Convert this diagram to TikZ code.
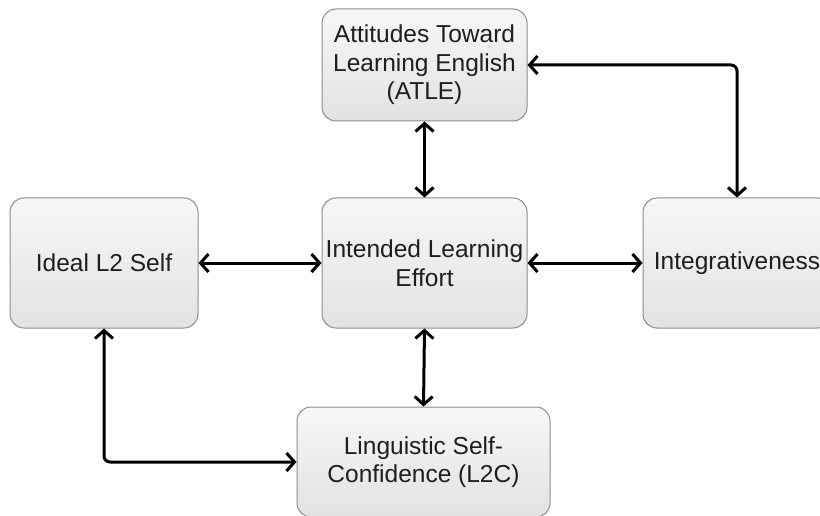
\documentclass[tikz,border=0pt]{standalone}
\usepackage{fontspec}
\setmainfont{Liberation Sans}
\usetikzlibrary{arrows.meta}
\definecolor{boxtop}{HTML}{F7F7F7}
\definecolor{boxbot}{HTML}{E2E2E2}
\definecolor{boxline}{HTML}{8C8C8C}
\definecolor{txt}{HTML}{1E1E1E}
\tikzset{
  box/.style={draw=boxline, line width=1pt, rounded corners=14pt,
    top color=boxtop, bottom color=boxbot, align=center,
    font=\fontsize{24.5}{28.5}\selectfont, text=txt, inner sep=0pt},
  link/.style={line width=3pt, line cap=round, rounded corners=6pt,
    {Straight Barb[length=8pt,width=18pt]}-{Straight Barb[length=8pt,width=18pt]}}
}
\begin{document}
\begin{tikzpicture}[x=1pt,y=-1pt]
\useasboundingbox (0,0) rectangle (820,516);
\clip (0,0) rectangle (820,516);
\fill[white] (0,0) rectangle (820,516);
\node[box, minimum width=205pt, minimum height=112pt] (atle) at (424.5,65) {Attitudes Toward\\Learning English\\(ATLE)};
\node[box, minimum width=188pt, minimum height=130pt] (ideal) at (104,263) {Ideal L2 Self};
\node[box, minimum width=205pt, minimum height=130pt] (ile) at (424.5,263) {Intended Learning\\Effort};
\node[box, minimum width=188pt, minimum height=130pt] (integ) at (737,263) {Integrativeness};
\node[box, minimum width=253pt, minimum height=110pt] (l2c) at (423.5,462) {Linguistic Self-\\Confidence (L2C)};
\draw[link] (atle.south) -- (ile.north);
\draw[link] (atle.east) -- (integ.north |- atle.east) -- (integ.north);
\draw[link] (ideal.east) -- (ile.west);
\draw[link] (ile.east) -- (integ.west);
\draw[link] (ile.south) -- (l2c.north);
\draw[link] (ideal.south) -- (ideal.south |- l2c.west) -- (l2c.west);
\end{tikzpicture}
\end{document}
